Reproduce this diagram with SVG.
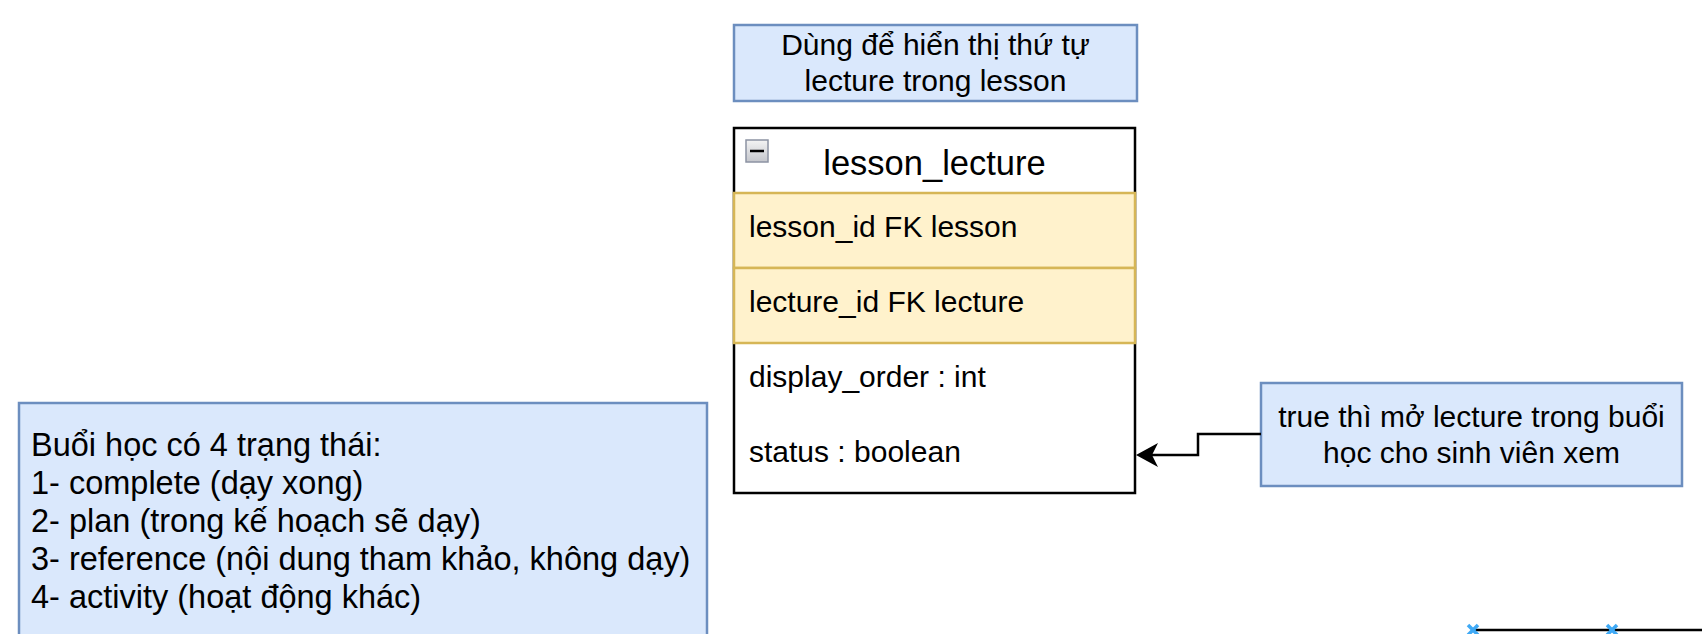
<svg xmlns="http://www.w3.org/2000/svg" width="1702" height="634" viewBox="0 0 1702 634">
<style>
  text { font-family: "Liberation Sans", Arial, Helvetica, sans-serif; fill: #000; }
  .note { fill: #dae8fc; stroke: #6c8ebf; stroke-width: 2.5; }
  .fk { fill: #fff2cc; stroke: #d6b656; stroke-width: 2.5; }
  .tbl { fill: #ffffff; stroke: #000; stroke-width: 2.5; }
  .t30 { font-size: 30px; }
  .t32 { font-size: 32.5px; }
  .hdr { font-size: 34.5px; }
  .conn { fill: none; stroke: #000; stroke-width: 2.5; }
  .wp { stroke: #3fa9f5; stroke-width: 3.5; }
</style>
<defs>
  <linearGradient id="btn" x1="0" y1="0" x2="0" y2="1">
    <stop offset="0" stop-color="#f4f4f4"/>
    <stop offset="1" stop-color="#c4c6cc"/>
  </linearGradient>
  <marker id="arrow" markerUnits="userSpaceOnUse" viewBox="0 0 22 24" markerWidth="22" markerHeight="24" refX="16" refY="12" orient="auto">
    <path d="M0,0 L22,12 L0,24 L6,12 Z" fill="#000"/>
  </marker>
</defs>
<rect width="1702" height="634" fill="#ffffff"/>

<g id="note-top">
  <rect class="note" x="734" y="25" width="403" height="76"/>
  <text class="t30" x="935.5" y="55" text-anchor="middle">Dùng để hiển thị thứ tự</text>
  <text class="t30" x="935.5" y="91" text-anchor="middle">lecture trong lesson</text>
</g>

<g id="lesson_lecture">
  <rect class="tbl" x="734" y="128" width="401" height="365"/>
  <rect x="746" y="140" width="22" height="22" fill="url(#btn)" stroke="#8c93a3" stroke-width="1.5"/>
  <line x1="750" y1="151" x2="764" y2="151" stroke="#000" stroke-width="2.5"/>
  <text class="hdr" x="934.5" y="175" text-anchor="middle">lesson_lecture</text>
  <rect class="fk" x="734" y="193" width="401" height="75"/>
  <rect class="fk" x="734" y="268" width="401" height="75"/>
  <text class="t30" x="749" y="237">lesson_id FK lesson</text>
  <text class="t30" x="749" y="312">lecture_id FK lecture</text>
  <text class="t30" x="749" y="387">display_order : int</text>
  <text class="t30" x="749" y="462">status : boolean</text>
</g>

<g id="note-status">
  <rect class="note" x="1261" y="383" width="421" height="103"/>
  <text class="t30" x="1471.5" y="427" text-anchor="middle">true thì mở lecture trong buổi</text>
  <text class="t30" x="1471.5" y="463" text-anchor="middle">học cho sinh viên xem</text>
</g>

<g id="note-states">
  <rect class="note" x="19" y="403" width="688" height="260"/>
  <text class="t32" x="31" y="456">Buổi học có 4 trạng thái:</text>
  <text class="t32" x="31" y="494">1- complete (dạy xong)</text>
  <text class="t32" x="31" y="532">2- plan (trong kế hoạch sẽ dạy)</text>
  <text class="t32" x="31" y="570">3- reference (nội dung tham khảo, không dạy)</text>
  <text class="t32" x="31" y="608">4- activity (hoạt động khác)</text>
</g>

<g id="connectors">
  <path class="conn" d="M1261,434 H1198 V455 H1142" marker-end="url(#arrow)"/>
  <line class="conn" x1="1473" y1="630" x2="1702" y2="630"/>
  <g class="wp">
    <line x1="1468" y1="625" x2="1478" y2="635"/>
    <line x1="1478" y1="625" x2="1468" y2="635"/>
    <line x1="1607" y1="625" x2="1617" y2="635"/>
    <line x1="1617" y1="625" x2="1607" y2="635"/>
  </g>
</g>
</svg>
